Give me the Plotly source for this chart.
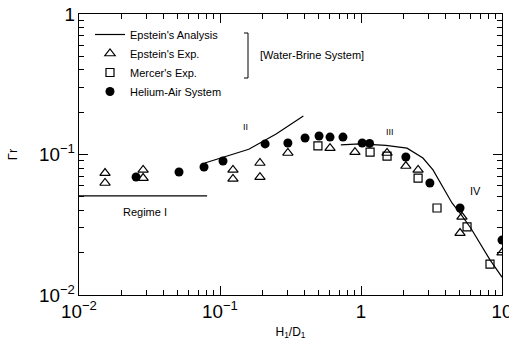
import plotly.graph_objects as go

# Epstein's analysis (regimes I, II, III-IV)
ana1_x = [0.01, 0.081]
ana1_y = [0.0507, 0.0507]
ana2_x = [0.078, 0.16, 0.25, 0.39]
ana2_y = [0.087, 0.109, 0.140, 0.188]
ana3_x = [0.72, 0.98, 1.5, 2.12, 2.75, 3.24, 4.42, 5.04, 6.0, 8.22, 10.0]
ana3_y = [0.117, 0.119, 0.116, 0.111, 0.0944, 0.0776, 0.0452, 0.0383, 0.030, 0.0178, 0.0134]

# Epstein's experiments (open triangles)
eps_x = [0.0153, 0.0153, 0.0285, 0.0285, 0.1236, 0.1236, 0.192, 0.192, 0.303, 0.603,
         0.906, 1.53, 2.08, 2.54, 5.04, 5.2, 10.0]
eps_y = [0.0738, 0.0627, 0.0776, 0.068, 0.0776, 0.067, 0.087, 0.069, 0.1025, 0.111,
         0.104, 0.1025, 0.0828, 0.0776, 0.0276, 0.036, 0.0200]

# Mercer's experiments (open squares)
mer_x = [0.495, 1.16, 1.53, 2.54, 3.46, 5.65, 8.22]
mer_y = [0.115, 0.104, 0.0975, 0.068, 0.0416, 0.0305, 0.0166]

# Helium-air system (filled circles)
hel_x = [0.0254, 0.0512, 0.077, 0.105, 0.209, 0.303, 0.401, 0.504, 0.603, 0.745,
         1.02, 1.15, 2.08, 3.08, 5.04, 10.0]
hel_y = [0.0691, 0.075, 0.0815, 0.0899, 0.119, 0.1208, 0.131, 0.1355, 0.133, 0.133,
         0.1208, 0.12, 0.096, 0.0627, 0.0416, 0.0246]

FONT = "Liberation Sans, Arial, sans-serif"
fig = go.Figure()

line_style = dict(color="black", width=1.2)
fig.add_trace(go.Scatter(x=ana1_x, y=ana1_y, mode="lines", line=line_style,
                         name="Epstein's Analysis", legendgroup="a", showlegend=True))
fig.add_trace(go.Scatter(x=ana2_x, y=ana2_y, mode="lines", line=line_style,
                         legendgroup="a", showlegend=False))
fig.add_trace(go.Scatter(x=ana3_x, y=ana3_y, mode="lines", line=line_style,
                         legendgroup="a", showlegend=False))
fig.add_trace(go.Scatter(x=eps_x, y=eps_y, mode="markers", name="Epstein's Exp.",
                         marker=dict(symbol="triangle-up-open", size=9, color="black",
                                     line=dict(width=1.2, color="black"))))
fig.add_trace(go.Scatter(x=mer_x, y=mer_y, mode="markers", name="Mercer's Exp.",
                         marker=dict(symbol="square-open", size=8, color="black",
                                     line=dict(width=1.2, color="black"))))
fig.add_trace(go.Scatter(x=hel_x, y=hel_y, mode="markers", name="Helium-Air System",
                         marker=dict(symbol="circle", size=9, color="black")))

axis_common = dict(type="log", showline=True, linecolor="black", linewidth=1.2,
                   mirror="ticks", ticks="inside", ticklen=9, tickwidth=1.3,
                   tickcolor="black", tickmode="linear", tick0=0, dtick=1,
                   exponentformat="power", showexponent="all",
                   showgrid=False, zeroline=False, automargin=False,
                   ticklabeloverflow="allow",
                   tickfont=dict(family=FONT, size=15, color="black"),
                   minor=dict(ticks="inside", ticklen=5, tickwidth=1,
                              tickcolor="black", showgrid=False))

fig.update_xaxes(**axis_common, range=[-2, 1],
                 title=dict(text="H<sub>1</sub>/D<sub>1</sub>", standoff=6,
                            font=dict(family=FONT, size=12, color="black")))
fig.update_yaxes(**axis_common, range=[-2, 0],
                 title=dict(text="Γr", standoff=18,
                            font=dict(family=FONT, size=13, color="black")))

def px(xp):
    return (xp - 79) / 423.0

def py(yp):
    return (295 - yp) / 281.0

# bracket for Water-Brine System
fig.add_shape(type="path",
              path=f"M {px(244)} {py(33)} L {px(248)} {py(33)} L {px(248)} {py(78)} L {px(244)} {py(78)}",
              xref="paper", yref="paper", line=dict(color="black", width=1))

annots = [
    ("[Water-Brine System]", 258, 55, "left", 11),
    ("II", 245, 127, "center", 9),
    ("III", 390, 132, "center", 9),
    ("IV", 475, 191, "center", 11),
    ("Regime I", 145, 212, "center", 11),
]
for txt, xp, yp, anc, sz in annots:
    fig.add_annotation(text=txt, x=px(xp), y=py(yp), xref="paper", yref="paper",
                       xanchor=anc, yanchor="middle", showarrow=False,
                       font=dict(family=FONT, size=sz, color="black"))

fig.update_layout(
    width=509, height=344,
    margin=dict(l=79, r=7, t=14, b=49),
    paper_bgcolor="white", plot_bgcolor="white",
    font=dict(family=FONT, color="black"),
    legend=dict(x=px(90), y=py(20), xanchor="left", yanchor="top",
                bgcolor="rgba(0,0,0,0)", font=dict(family=FONT, size=11, color="black"),
                tracegroupgap=0, itemwidth=30),
)

fig.write_html("out.html", config={"displayModeBar": False},
               post_script="document.body.style.margin='0px';document.body.style.overflow='hidden';")
